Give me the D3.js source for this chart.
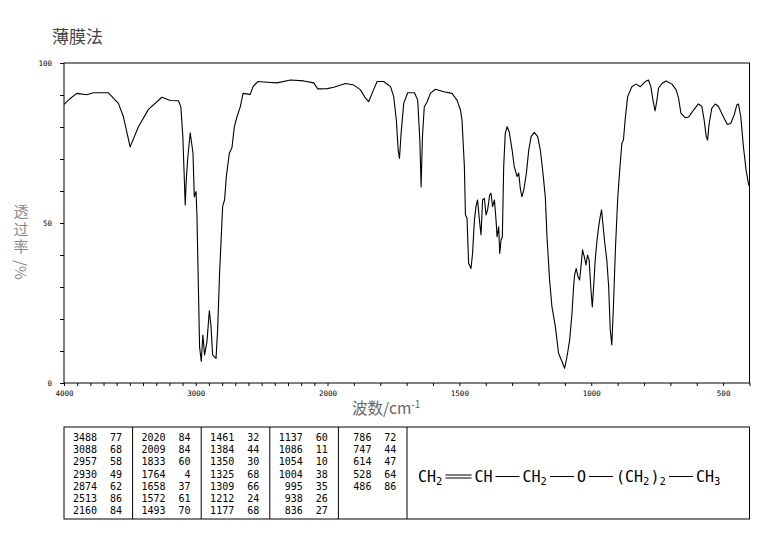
<!DOCTYPE html>
<html>
<head>
<meta charset="utf-8">
<script src="https://cdn.jsdelivr.net/npm/d3@7"></script>
<style>
  body { margin: 0; background: #fff; }
  svg { display: block; }
</style>
</head>
<body>
<svg id="svg"></svg>
<script>
/**
 * CONSTANTS AND GLOBALS
 * */
const width = 765,
  height = 539,
  plot = { left: 64, right: 749.5, top: 63, bottom: 383 };

// spectrum: wavenumber (cm-1) and transmittance (%)
const wavenumbers = [
  4000, 3950, 3903, 3827, 3777, 3663, 3587, 3549, 3498, 3435, 3359, 3257, 3194, 3131, 3113,
  3098, 3080, 3072, 3062, 3042, 3021, 3011, 2998, 2991, 2979, 2971, 2958, 2946, 2933, 2915,
  2897, 2884, 2872, 2846, 2834, 2819, 2796, 2781, 2768, 2745, 2725, 2707, 2687, 2662, 2641,
  2586, 2565, 2530, 2459, 2383, 2281, 2180, 2104, 2074, 2002, 1976, 1932, 1900, 1875, 1856,
  1844, 1831, 1812, 1787, 1761, 1749, 1739, 1732, 1727, 1721, 1711, 1696, 1670, 1658, 1650,
  1645, 1640, 1633, 1622, 1610, 1591, 1559, 1528, 1509, 1496, 1490, 1481, 1477, 1471, 1465,
  1456, 1450, 1443, 1437, 1431, 1424, 1418, 1412, 1405, 1399, 1393, 1385, 1380, 1374, 1367,
  1361, 1357, 1351, 1347, 1342, 1337, 1332, 1326, 1319, 1311, 1300, 1292, 1281, 1275, 1269,
  1263, 1256, 1246, 1237, 1228, 1216, 1203, 1193, 1183, 1174, 1168, 1158, 1149, 1136, 1124,
  1111, 1101, 1092, 1082, 1073, 1067, 1063, 1057, 1050, 1044, 1039, 1033, 1025, 1020, 1014,
  1008, 1001, 996, 991, 985, 978, 972, 966, 961, 956, 950, 941, 934, 928, 922,
  916, 908, 900, 893, 884, 878, 871, 862, 846, 830, 814, 795, 783, 774, 766,
  758, 751, 745, 732, 716, 694, 678, 669, 660, 644, 631, 612, 594, 581, 572,
  564, 559, 553, 543, 530, 518, 499, 484, 471, 458, 448, 442, 433, 423, 413,
  404, 400
];
const transmittance = [
  87.1, 89.0, 90.5, 90.1, 90.7, 90.7, 87.4, 83.2, 73.8, 80.1, 85.5, 89.3, 88.3, 88.2, 86.3,
  77.0, 55.6, 63.4, 69.7, 78.2, 71.8, 58.2, 59.8, 52.5, 28.0, 11.3, 6.7, 15.0, 8.8, 12.9,
  22.6, 17.6, 8.8, 7.7, 16.6, 34.3, 55.1, 57.3, 64.5, 71.8, 73.6, 80.1, 83.2, 86.3, 90.5,
  90.2, 92.6, 94.2, 94.0, 93.8, 94.7, 94.4, 93.8, 91.9, 92.0, 92.4, 93.6, 93.1, 91.6, 89.0,
  87.9, 90.5, 94.2, 94.2, 92.6, 89.5, 82.2, 72.8, 70.2, 78.0, 87.4, 90.7, 90.7, 88.4, 75.9,
  61.3, 77.0, 86.3, 87.9, 90.5, 91.8, 91.0, 90.5, 88.4, 85.3, 82.2, 67.6, 52.5, 51.5, 37.4,
  35.8, 40.5, 50.9, 55.1, 57.2, 50.9, 46.3, 57.2, 57.7, 52.5, 54.1, 58.8, 59.3, 55.1, 57.2,
  50.9, 45.7, 48.8, 40.5, 44.7, 45.7, 67.6, 78.0, 80.1, 78.5, 72.8, 67.6, 64.5, 65.6, 60.8,
  58.2, 60.3, 65.5, 72.8, 77.0, 78.3, 77.0, 72.8, 65.5, 58.0, 46.0, 32.2, 23.8, 17.6, 9.3,
  6.7, 4.6, 8.2, 13.4, 21.8, 30.1, 33.8, 35.8, 33.2, 32.2, 36.3, 41.6, 39.0, 36.9, 40.0,
  38.4, 29.0, 23.8, 30.1, 38.4, 44.7, 48.8, 52.0, 54.1, 49.9, 44.7, 38.4, 30.1, 16.6, 11.9,
  23.8, 42.6, 57.2, 65.5, 74.9, 75.9, 82.7, 89.5, 92.6, 93.4, 92.6, 94.2, 94.7, 92.6, 88.4,
  85.0, 88.4, 92.1, 93.6, 94.4, 93.4, 91.6, 89.0, 84.3, 82.9, 83.1, 85.3, 87.2, 86.5, 82.2,
  77.0, 75.9, 81.1, 85.8, 87.2, 86.5, 83.2, 80.8, 81.1, 83.8, 86.9, 87.2, 83.2, 73.8, 66.6,
  62.2, 61.5
];

// axis ticks
const xTicks = d3.range(4000, 399, -100);
const xLabels = [4000, 3000, 2000, 1500, 1000, 500];
const yTicks = d3.range(0, 101, 10);
const yLabels = [0, 50, 100];

// peak table, five columns of wavenumber / value
const peakColumns = [
  [["3488", "77"], ["3088", "68"], ["2957", "58"], ["2930", "49"], ["2874", "62"], ["2513", "86"], ["2160", "84"]],
  [["2020", "84"], ["2009", "84"], ["1833", "60"], ["1764", "4"], ["1658", "37"], ["1572", "61"], ["1493", "70"]],
  [["1461", "32"], ["1384", "44"], ["1350", "30"], ["1325", "68"], ["1309", "66"], ["1212", "24"], ["1177", "68"]],
  [["1137", "60"], ["1086", "11"], ["1054", "10"], ["1004", "38"], ["995", "35"], ["938", "26"], ["836", "27"]],
  [["786", "72"], ["747", "44"], ["614", "47"], ["528", "64"], ["486", "86"]]
];

// structure: CH2=CH-CH2-O-(CH2)2-CH3, groups and the bonds between them
const groups = [["CH", "2"], ["CH", ""], ["CH", "2"], ["O", ""], ["(CH", "2"], [")", "2"], ["CH", "3"]];
const bonds = ["double", "single", "single", "single", "none", "single"];

/**
 * DRAW
 * */
const svg = d3.select("#svg")
  .attr("width", width)
  .attr("height", height)
  .attr("viewBox", `0 0 ${width} ${height}`);

const x = d3.scaleLinear()
  .domain([4000, 2000, 400])
  .range([plot.left, 327.5, plot.right]);

const y = d3.scaleLinear()
  .domain([0, 100])
  .range([plot.bottom, plot.top]);

const tickFont = "'DejaVu Sans Mono', monospace";
const cjkFont = "'Noto Sans CJK SC', sans-serif";

// title
svg.append("text")
  .attr("x", 52).attr("y", 43)
  .attr("font-family", cjkFont)
  .attr("font-size", 17)
  .attr("fill", "#444")
  .text("薄膜法");

// axes
const xAxis = d3.axisBottom(x)
  .tickValues(xTicks)
  .tickSize(3)
  .tickSizeOuter(0)
  .tickPadding(5)
  .tickFormat(d => xLabels.includes(d) ? d : "");

svg.append("g")
  .attr("transform", `translate(0,${plot.bottom})`)
  .call(xAxis)
  .call(g => g.select(".domain").remove())
  .call(g => g.selectAll("text")
    .attr("font-family", tickFont)
    .attr("font-size", 7.5)
    .attr("fill", "#000"));

const yAxis = d3.axisLeft(y)
  .tickValues(yTicks)
  .tickSize(4)
  .tickSizeOuter(0)
  .tickPadding(8)
  .tickFormat(d => yLabels.includes(d) ? d : "");

svg.append("g")
  .attr("transform", `translate(${plot.left},0)`)
  .call(yAxis)
  .call(g => g.select(".domain").remove())
  .call(g => g.selectAll("text")
    .attr("font-family", tickFont)
    .attr("font-size", 7.5)
    .attr("fill", "#000"));

// frame
svg.append("rect")
  .attr("x", plot.left).attr("y", plot.top)
  .attr("width", plot.right - plot.left)
  .attr("height", plot.bottom - plot.top)
  .attr("fill", "none")
  .attr("stroke", "#000")
  .attr("stroke-width", 1);

// spectrum
const spectrum = wavenumbers.map((w, i) => ({ w, t: transmittance[i] }));

const line = d3.line()
  .x(d => x(d.w))
  .y(d => y(d.t));

svg.append("path")
  .datum(spectrum)
  .attr("d", line)
  .attr("fill", "none")
  .attr("stroke", "#000")
  .attr("stroke-width", 1.1)
  .attr("stroke-linejoin", "round");

// y title: CJK characters set vertically and upright, then "/%" turned sideways
const yTitle = svg.append("g")
  .attr("font-family", cjkFont)
  .attr("font-size", 15)
  .attr("fill", "#888");

yTitle.append("text")
  .attr("x", 21).attr("y", 204)
  .style("writing-mode", "vertical-rl")
  .style("text-orientation", "upright")
  .attr("letter-spacing", 2.5)
  .text("透过率");

yTitle.append("text")
  .attr("transform", "translate(21,260) rotate(90)")
  .attr("dominant-baseline", "central")
  .text("/%");

const xTitle = svg.append("text")
  .attr("x", 352).attr("y", 414)
  .attr("font-family", cjkFont)
  .attr("font-size", 15.5)
  .attr("fill", "#666");
xTitle.append("tspan").text("波数/cm");
xTitle.append("tspan")
  .attr("font-size", 10)
  .attr("dy", -6)
  .text("-1");

// peak table
const table = { left: 64, top: 427, right: 749.5, bottom: 519 };
const colW = 68.6, rowH = 12.2;

svg.append("rect")
  .attr("x", table.left).attr("y", table.top)
  .attr("width", table.right - table.left)
  .attr("height", table.bottom - table.top)
  .attr("fill", "none")
  .attr("stroke", "#000");

svg.selectAll("line.divider")
  .data(d3.range(1, peakColumns.length + 1))
  .join("line")
  .attr("class", "divider")
  .attr("x1", i => table.left + i * colW)
  .attr("x2", i => table.left + i * colW)
  .attr("y1", table.top)
  .attr("y2", table.bottom)
  .attr("stroke", "#000");

const cols = svg.selectAll("g.col")
  .data(peakColumns)
  .join("g")
  .attr("class", "col")
  .attr("transform", (d, i) => `translate(${table.left + i * colW},${table.top})`)
  .attr("font-family", tickFont)
  .attr("font-size", 10)
  .attr("fill", "#000");

cols.selectAll("text.wn")
  .data(d => d)
  .join("text")
  .attr("class", "wn")
  .attr("x", 33)
  .attr("y", (d, i) => 14 + i * rowH)
  .attr("text-anchor", "end")
  .text(d => d[0]);

cols.selectAll("text.val")
  .data(d => d)
  .join("text")
  .attr("class", "val")
  .attr("x", 58)
  .attr("y", (d, i) => 14 + i * rowH)
  .attr("text-anchor", "end")
  .text(d => d[1]);

// structural formula, laid out left to right
const fx0 = 418, fBase = 482, charW = 9, subW = 6.5, gap = 3;
const bondLen = { double: 26, single: 24, none: 0 };
let cx = fx0;
const formula = svg.append("g")
  .attr("font-family", tickFont)
  .attr("fill", "#000");

groups.forEach((g, i) => {
  formula.append("text")
    .attr("x", cx).attr("y", fBase)
    .attr("font-size", 15)
    .text(g[0]);
  cx += g[0].length * charW;
  if (g[1]) {
    formula.append("text")
      .attr("x", cx).attr("y", fBase + 3)
      .attr("font-size", 10.5)
      .text(g[1]);
    cx += subW;
  }
  const b = bonds[i];
  if (b === undefined) return;
  if (b === "none") { cx += 1; return; }
  cx += gap;
  const ys = b === "double" ? [-1.5, 1.5] : [0];
  ys.forEach(o => {
    formula.append("line")
      .attr("x1", cx).attr("x2", cx + bondLen[b])
      .attr("y1", fBase - 5.5 + o).attr("y2", fBase - 5.5 + o)
      .attr("stroke", "#000")
      .attr("stroke-width", 1);
  });
  cx += bondLen[b] + gap;
});
</script>
</body>
</html>
